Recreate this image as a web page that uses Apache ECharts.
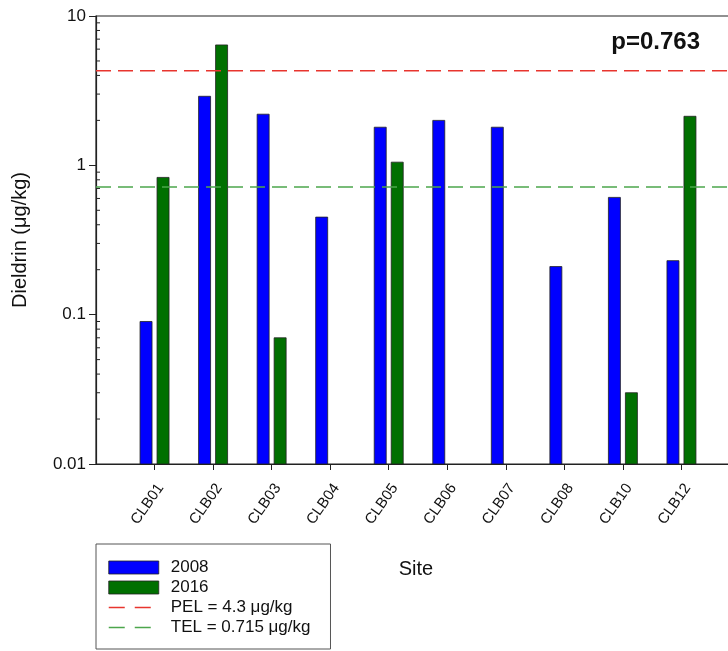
<!DOCTYPE html>
<html>
<head>
<meta charset="utf-8">
<script src="https://cdn.jsdelivr.net/npm/echarts@6/dist/echarts.min.js"></script>
<style>html,body{margin:0;padding:0;background:#fff;}#c{width:728px;height:651px;}</style>
</head>
<body>
<div id="c"></div>
<script>
var sites = ['CLB01','CLB02','CLB03','CLB04','CLB05','CLB06','CLB07','CLB08','CLB10','CLB12'];
var dieldrin2008 = [0.09, 2.9, 2.2, 0.45, 1.8, 2.0, 1.8, 0.21, 0.61, 0.23];
var dieldrin2016 = [0.83, 6.4, 0.07, null, 1.05, null, null, null, 0.03, 2.13];
var pel = 4.3;
var tel = 0.715;
var yTicks = [0.01, 0.1, 1, 10];
var minorTicks = [0.02,0.03,0.04,0.05,0.06,0.07,0.08,0.09,0.2,0.3,0.4,0.5,0.6,0.7,0.8,0.9,2,3,4,5,6,7,8,9];

var FONT = 'Liberation Sans';
var yMin = yTicks[0], yMax = yTicks[yTicks.length - 1];
var cats = [''].concat(sites).concat(['']);
function flat(v){ return cats.map(function(){ return v; }); }
function barData(vals){
  var out = [];
  vals.forEach(function(v, i){ if (v != null) out.push([i + 1, v]); });
  return out;
}
function barRenderer(offset, fill){
  return function(params, api){
    var top = api.coord([api.value(0), api.value(1)]);
    var base = api.coord([api.value(0), yMin]);
    var w = 12;
    return {
      type: 'rect',
      shape: {x: top[0] + offset - w / 2, y: top[1], width: w, height: base[1] - top[1]},
      style: {fill: fill, stroke: '#222', lineWidth: 0.8}
    };
  };
}

var chart = echarts.init(document.getElementById('c'), null, {renderer:'canvas'});
chart.setOption({
  animation: false,
  textStyle: {fontFamily: FONT},
  title: [
    {text: 'p=0.763', right: 23, top: 25, textStyle: {fontFamily: FONT, fontSize: 24, fontWeight: 'bold', color: '#111'}},
    {text: 'Site', left: 411, top: 554, textAlign: 'center', textStyle: {fontFamily: FONT, fontSize: 20, fontWeight: 'normal', color: '#111'}}
  ],
  grid: {left: 96, top: 16, right: -12, bottom: 187, outerBoundsMode: 'none', containLabel: false,
         show: true, borderColor: '#222', borderWidth: 1.2, backgroundColor: 'transparent'},
  legend: {
    orient: 'vertical', left: 96, top: 544,
    itemWidth: 50, itemHeight: 13, itemGap: 3,
    padding: [15, 20, 13, 12],
    borderColor: '#555', borderWidth: 1, backgroundColor: '#fff',
    textStyle: {fontFamily: FONT, fontSize: 17, color: '#111', padding: [0, 0, 0, 7]},
    data: [
      {name: '2008', icon: 'rect', itemStyle: {color: '#0000ff', borderColor: '#222', borderWidth: 0.8}},
      {name: '2016', icon: 'rect', itemStyle: {color: '#007000', borderColor: '#222', borderWidth: 0.8}},
      {name: 'PEL = 4.3 μg/kg', itemStyle: {color: 'rgba(0,0,0,0)', borderWidth: 0, opacity: 0},
       lineStyle: {color: '#e8352e', width: 1.5, type: [16, 10]}},
      {name: 'TEL = 0.715 μg/kg', itemStyle: {color: 'rgba(0,0,0,0)', borderWidth: 0, opacity: 0},
       lineStyle: {color: '#4ca64c', width: 1.5, type: [16, 10]}}
    ]
  },
  xAxis: {
    type: 'category', data: cats, boundaryGap: false,
    axisLine: {lineStyle: {color: '#222', width: 1.2}},
    axisTick: {length: 6, lineStyle: {color: '#222'}, interval: function(i){ return i > 0 && i < cats.length - 1; }},
    axisLabel: {rotate: 55, fontFamily: FONT, fontSize: 15, color: '#111', margin: 17, interval: 0, verticalAlign: 'top'},
    splitLine: {show: false}
  },
  yAxis: {
    type: 'log', logBase: 10, min: yMin, max: yMax,
    name: 'Dieldrin (μg/kg)', nameLocation: 'middle', nameGap: 66,
    nameTextStyle: {fontFamily: FONT, fontSize: 20, color: '#111'},
    axisLine: {show: true, lineStyle: {color: '#222', width: 1.2}},
    axisTick: {show: true, length: 7, lineStyle: {color: '#222'}},
    axisLabel: {fontFamily: FONT, fontSize: 17, color: '#111', margin: 10,
      formatter: function(v){ return String(+(+v).toPrecision(3)); }},
    splitLine: {show: false}
  },
  series: [
    {name: '2008', type: 'custom', data: barData(dieldrin2008), renderItem: barRenderer(-8.5, '#0000ff'),
     itemStyle: {color: '#0000ff'}, z: 3},
    {name: '2016', type: 'custom', data: barData(dieldrin2016), renderItem: barRenderer(8.5, '#007000'),
     itemStyle: {color: '#007000'}, z: 3},
    {name: 'minor', type: 'custom', data: minorTicks.map(function(v){ return [0, v]; }), silent: true, z: 4,
     renderItem: function(params, api){
       var p = api.coord([api.value(0), api.value(1)]);
       return {type: 'line', shape: {x1: p[0], y1: p[1], x2: p[0] + 4, y2: p[1]}, style: {stroke: '#222', lineWidth: 1}};
     }},
    {name: 'PEL = 4.3 μg/kg', type: 'line', data: flat(pel), symbol: 'none', z: 5,
     itemStyle: {color: '#e8352e'},
     lineStyle: {color: '#e8352e', width: 1.5, type: [15, 7]}},
    {name: 'TEL = 0.715 μg/kg', type: 'line', data: flat(tel), symbol: 'none', z: 5,
     itemStyle: {color: '#4ca64c'},
     lineStyle: {color: '#4ca64c', width: 1.5, type: [15, 7]}}
  ]
});
</script>
</body>
</html>
